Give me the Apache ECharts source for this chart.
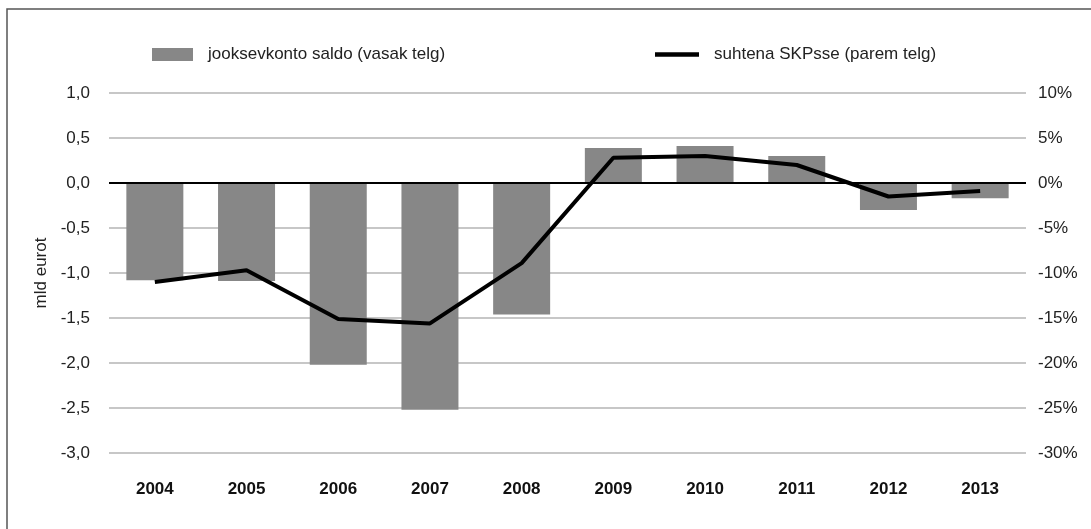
<!DOCTYPE html>
<html><head><meta charset="utf-8">
<script src="https://cdn.jsdelivr.net/npm/echarts@6/dist/echarts.min.js"></script>
<style>html,body{margin:0;padding:0;background:#fff}#c{width:1091px;height:529px}</style>
</head><body><div id="c"></div>
<script>
const years = ['2004','2005','2006','2007','2008','2009','2010','2011','2012','2013'];
const balance = [-1.08, -1.09, -2.02, -2.52, -1.46, 0.39, 0.41, 0.30, -0.30, -0.17];
const pctGdp = [-11.0, -9.7, -15.1, -15.6, -8.9, 2.8, 3.0, 2.0, -1.5, -0.9];
const barName = 'jooksevkonto saldo (vasak telg)';
const lineName = 'suhtena SKPsse (parem telg)';
const leftAxisName = 'mld eurot';

const font = 'Liberation Sans, Arial, Helvetica, sans-serif';
const legendText = {fontFamily: font, fontSize: 17, color: '#222',
  rich: {t: {fontFamily: font, fontSize: 17, color: '#222', padding: [0, 0, 0, 10]}}};
const chart = echarts.init(document.getElementById('c'), null, {renderer: 'canvas'});
chart.setOption({
  animation: false,
  backgroundColor: '#fff',
  textStyle: {fontFamily: font},
  graphic: [{
    type: 'rect', shape: {x: 7, y: 9, width: 1100, height: 540},
    style: {fill: 'none', stroke: '#555', lineWidth: 1.5}, z: -1
  }],
  legend: [{
    left: 152, top: 46, padding: 0,
    textStyle: legendText, formatter: n => '{t|' + n + '}',
    itemWidth: 41, itemHeight: 13,
    data: [{name: barName, icon: 'rect', itemStyle: {color: '#878787'}}]
  }, {
    left: 655, top: 46, padding: 0,
    textStyle: legendText, formatter: n => '{t|' + n + '}',
    itemWidth: 44, itemHeight: 13,
    data: [{name: lineName, icon: 'path://M0,45 L100,45 L100,55 L0,55 Z', itemStyle: {color: '#000'}}]
  }],
  grid: {left: 109, right: 65, top: 93, bottom: 76},
  xAxis: {
    type: 'category', data: years,
    axisLine: {show: false}, axisTick: {show: false},
    axisLabel: {fontFamily: font, fontSize: 17, fontWeight: 'bold', color: '#111', margin: 28}
  },
  yAxis: [{
    type: 'value', min: -3, max: 1, interval: 0.5,
    name: leftAxisName, nameLocation: 'middle', nameGap: 55, nameRotate: 90,
    nameTextStyle: {fontFamily: font, fontSize: 17, color: '#222'},
    axisLine: {show: false}, axisTick: {show: false},
    axisLabel: {fontFamily: font, fontSize: 17, color: '#222', margin: 19,
      formatter: v => v.toFixed(1).replace('.', ',')},
    splitLine: {lineStyle: {color: '#b4b4b4', width: 1.5}}
  }, {
    type: 'value', min: -30, max: 10, interval: 5,
    axisLine: {show: false}, axisTick: {show: false},
    axisLabel: {fontFamily: font, fontSize: 17, color: '#222', margin: 12,
      formatter: v => v + '%'},
    splitLine: {show: false}
  }],
  series: [{
    name: barName, type: 'bar', data: balance, yAxisIndex: 0,
    barWidth: 57, itemStyle: {color: '#878787'},
    markLine: {
      silent: true, symbol: 'none', label: {show: false},
      lineStyle: {color: '#000', width: 2, type: 'solid'},
      data: [{yAxis: 0}], z: 3
    }
  }, {
    name: lineName, type: 'line', data: pctGdp, yAxisIndex: 1,
    symbol: 'none', lineStyle: {color: '#000', width: 4}, itemStyle: {color: '#000'}, z: 5
  }]
});
</script></body></html>
